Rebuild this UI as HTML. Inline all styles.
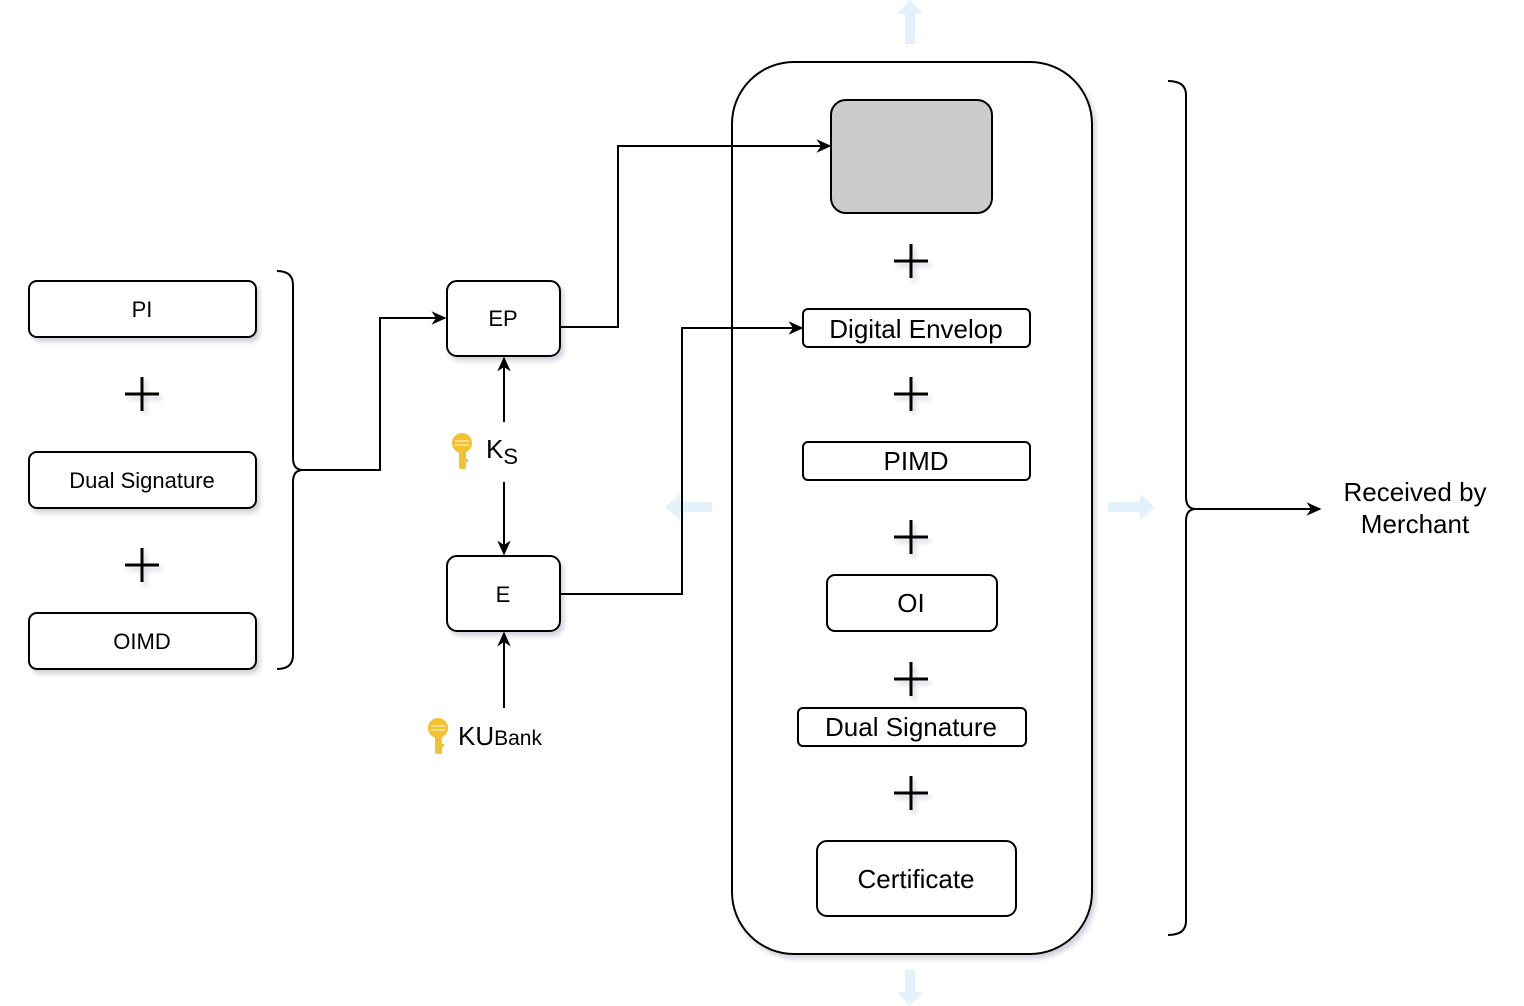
<!DOCTYPE html>
<html><head><meta charset="utf-8"><style>
html,body{margin:0;padding:0;background:#fff;}
svg{display:block;}
text{font-family:"Liberation Sans",Arial,sans-serif;fill:#000;}
</style></head><body>
<svg width="1524" height="1006" viewBox="0 0 1524 1006" xmlns="http://www.w3.org/2000/svg">
<defs>
<marker id="ar" viewBox="0 0 10 10" refX="9" refY="5" markerWidth="15" markerHeight="15" orient="auto" markerUnits="userSpaceOnUse">
<path d="M0,0.5 L10,5 L0,9.5 L3,5 Z" fill="#000"/>
</marker>
<filter id="sh" x="-10%" y="-10%" width="130%" height="130%">
<feDropShadow dx="3" dy="4" stdDeviation="2.5" flood-color="#8080a0" flood-opacity="0.35"/>
</filter>
</defs>

<g fill="#e3f1fb">
<rect x="905" y="12" width="10" height="32"/><polygon points="897,14 910,0 923,14"/>
<rect x="905" y="970" width="10" height="24"/><polygon points="897,992 910,1006 923,992"/>
<rect x="680" y="502" width="32" height="10"/><polygon points="680,494 665,507 680,520"/>
<rect x="1108" y="502" width="32" height="10"/><polygon points="1140,494 1155,507 1140,520"/>
</g>

<g stroke="#000" stroke-width="2" fill="#fff" filter="url(#sh)">
<rect x="29" y="281" width="227" height="56" rx="8"/>
<rect x="29" y="452" width="227" height="56" rx="8"/>
<rect x="29" y="613" width="227" height="56" rx="8"/>
<rect x="447" y="281" width="113" height="75" rx="10"/>
<rect x="447" y="556" width="113" height="75" rx="10"/>
<rect x="732" y="62" width="360" height="892" rx="62"/>
</g>
<g stroke="#000" stroke-width="2">
<rect x="831" y="100" width="161" height="113" rx="15" fill="#cccccc"/>
<rect x="803" y="309" width="227" height="38" rx="5" fill="#fff"/>
<rect x="803" y="442" width="227" height="38" rx="5" fill="#fff"/>
<rect x="827" y="575" width="170" height="56" rx="8" fill="#fff"/>
<rect x="798" y="708" width="228" height="38" rx="5" fill="#fff"/>
<rect x="817" y="841" width="199" height="75" rx="10" fill="#fff"/>
</g>

<g stroke="#000" stroke-width="3" filter="url(#sh)">
<path d="M125,394 H159 M142,377 V411"/>
<path d="M125,565 H159 M142,548 V582"/>
<path d="M894,261 H928 M911,244 V278"/>
<path d="M894,394 H928 M911,377 V411"/>
<path d="M894,537 H928 M911,520 V554"/>
<path d="M894,679 H928 M911,662 V696"/>
<path d="M894,793 H928 M911,776 V810"/>
</g>

<g stroke="#000" stroke-width="2" fill="none">
<path d="M277,271 Q293,271 293,285 V458 Q293,470 303,470 Q293,470 293,482 V655 Q293,669 277,669"/>
<path d="M1168,81 Q1186,81 1186,95 V497 Q1186,509 1196,509 Q1186,509 1186,521 V921 Q1186,935 1168,935"/>
</g>

<g stroke="#000" stroke-width="2" fill="none">
<path d="M303,470 H380 V318 H445" marker-end="url(#ar)"/>
<path d="M560,327 H618 V146 H830" marker-end="url(#ar)"/>
<path d="M560,594 H682 V328 H802" marker-end="url(#ar)"/>
<path d="M504,422 V358" marker-end="url(#ar)"/>
<path d="M504,482 V554" marker-end="url(#ar)"/>
<path d="M504,708 V633" marker-end="url(#ar)"/>
<path d="M1196,509 H1320" marker-end="url(#ar)"/>
</g>

<g fill="#f2c232">
<circle cx="462" cy="443" r="10"/>
<rect x="459" y="450" width="7" height="19" rx="2"/>
<rect x="463" y="459" width="5" height="3"/>
<circle cx="438" cy="728" r="10"/>
<rect x="435" y="735" width="7" height="19" rx="2"/>
<rect x="439" y="744" width="5" height="3"/>
</g>
<g stroke="#fbe7a0" stroke-width="1.5">
<path d="M455,441 H469 M455,445 H469"/>
<path d="M431,726 H445 M431,730 H445"/>
</g>

<g text-anchor="middle" font-size="22">
<text x="142" y="317">PI</text>
<text x="142" y="488">Dual Signature</text>
<text x="142" y="649">OIMD</text>
<text x="503" y="326">EP</text>
<text x="503" y="602">E</text>
</g>
<g text-anchor="middle" font-size="26">
<text x="916" y="338">Digital Envelop</text>
<text x="916" y="470">PIMD</text>
<text x="911" y="612">OI</text>
<text x="911" y="736">Dual Signature</text>
<text x="916" y="888">Certificate</text>
<text x="1415" y="501">Received by</text>
<text x="1415" y="533">Merchant</text>
</g>
<text x="486" y="458" font-size="26">K<tspan font-size="22" dy="6">S</tspan></text>
<text x="458" y="745" font-size="26">KU<tspan font-size="21">Bank</tspan></text>
</svg>
</body></html>
